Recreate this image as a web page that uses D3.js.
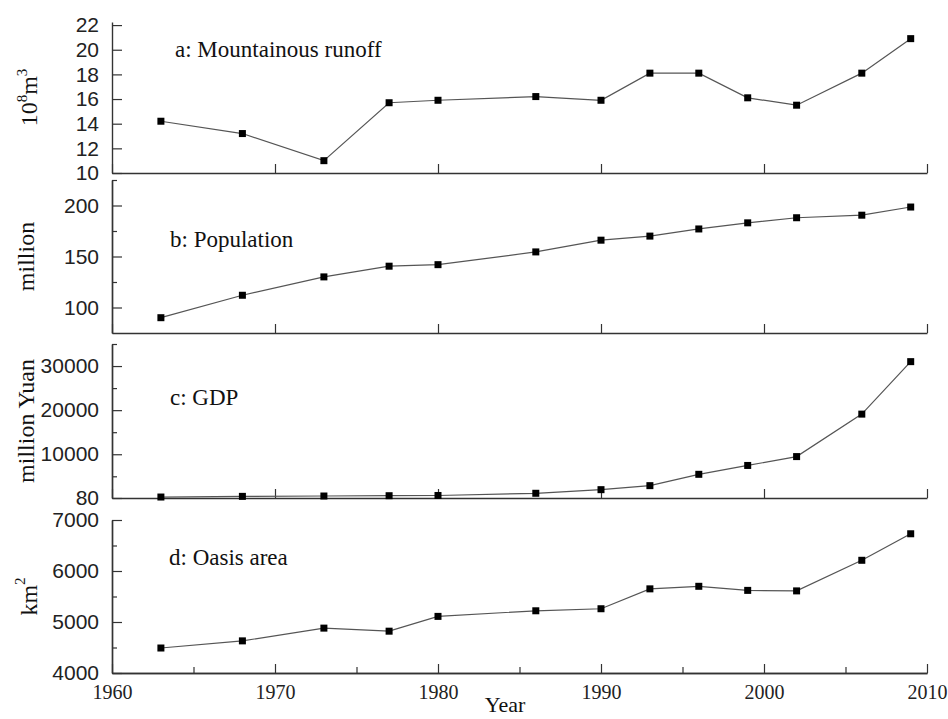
<!DOCTYPE html>
<html>
<head>
<meta charset="utf-8">
<script src="https://cdn.jsdelivr.net/npm/d3@7"></script>
<style>
  body { margin: 0; background: #fff; }
  svg { display: block; }
</style>
</head>
<body>
<div id="chart"></div>
<script>
// Data
const years = [1963, 1968, 1973, 1977, 1980, 1986, 1990, 1993, 1996, 1999, 2002, 2006, 2009]
const runoff = [14.2, 13.2, 11.0, 15.7, 15.9, 16.2, 15.9, 18.1, 18.1, 16.1, 15.5, 18.1, 20.9]
const population = [90, 112, 130, 140.5, 142, 154.5, 166, 170, 177, 183, 188, 190.5, 198.5]
const gdp = [300, 450, 530, 600, 650, 1150, 1970, 2880, 5450, 7460, 9470, 19100, 31000]
const oasis = [4490, 4630, 4880, 4820, 5110, 5220, 5260, 5650, 5700, 5620, 5610, 6210, 6730]

const yearTicks = [1960, 1970, 1980, 1990, 2000, 2010]
const yearMinor = [1965, 1975, 1985, 1995, 2005]
const runoffTicks = [10, 12, 14, 16, 18, 20, 22]
const popTicks = [100, 150, 200]
const popMinor = [125, 175, 225]
const gdpTicks = [80, 10000, 20000, 30000]
const gdpMinor = [5000, 15000, 25000, 35000]
const oasisTicks = [4000, 5000, 6000, 7000]
const oasisMinor = [4500, 5500, 6500]

const W = 948, H = 719
const left = 112, right = 927
const serif = "'Liberation Serif', 'Times New Roman', serif"
const sans = "'Liberation Sans', Arial, sans-serif"
const axisColor = '#333'

const svg = d3.select('#chart').append('svg')
    .attr('width', W)
    .attr('height', H)

const xScale = d3.scaleLinear().domain([1960, 2010]).range([left, right])

const panels = [
  { values: runoff, domain: [10, 22.25], top: 22, bottom: 173, ticks: runoffTicks, minor: [],
    title: 'a: Mountainous runoff', tx: 175, ty: 57, label: 'runoff', lx: 37 },
  { values: population, domain: [75, 225], top: 180, bottom: 333, ticks: popTicks, minor: popMinor,
    title: 'b: Population', tx: 170, ty: 247, label: 'million', lx: 34 },
  { values: gdp, domain: [80, 35000], top: 344, bottom: 498, ticks: gdpTicks, minor: gdpMinor,
    title: 'c: GDP', tx: 170, ty: 405, label: 'million Yuan', lx: 34 },
  { values: oasis, domain: [4000, 7000], top: 520, bottom: 673, ticks: oasisTicks, minor: oasisMinor,
    title: 'd: Oasis area', tx: 169, ty: 565, label: 'km', lx: 37 }
]

function styleAxis(g) {
  g.select('.domain').attr('stroke', axisColor).attr('stroke-width', 1.4)
  g.selectAll('.tick line').attr('stroke', axisColor).attr('stroke-width', 1.2)
}

panels.forEach((p, i) => {
  const yScale = d3.scaleLinear().domain(p.domain).range([p.bottom, p.top])
  const g = svg.append('g').attr('class', 'panel')

  // minor y ticks
  if (p.minor.length) {
    g.append('g')
      .attr('transform', `translate(${left},0)`)
      .call(d3.axisLeft(yScale).tickValues(p.minor).tickSizeInner(-5).tickSizeOuter(0).tickFormat(''))
      .call(styleAxis)
  }

  // major y ticks
  g.append('g')
    .attr('transform', `translate(${left},0)`)
    .call(d3.axisLeft(yScale).tickValues(p.ticks).tickSizeInner(-10).tickSizeOuter(0).tickPadding(13)
      .tickFormat(d3.format('d')))
    .call(styleAxis)
    .call(a => a.selectAll('text')
      .attr('font-family', sans)
      .attr('font-size', 21)
      .attr('fill', '#222'))

  // bottom axis
  const last = i === panels.length - 1
  if (last) {
    g.append('g')
      .attr('transform', `translate(0,${p.bottom})`)
      .call(d3.axisBottom(xScale).tickValues(yearMinor).tickSizeInner(-6).tickSizeOuter(0).tickFormat(''))
      .call(styleAxis)
  }
  g.append('g')
    .attr('transform', `translate(0,${p.bottom})`)
    .call(d3.axisBottom(xScale).tickValues(yearTicks).tickSizeInner(-9).tickSizeOuter(0).tickPadding(12)
      .tickFormat(last ? d3.format('d') : ''))
    .call(styleAxis)
    .call(a => a.selectAll('text')
      .attr('font-family', serif)
      .attr('font-size', 20)
      .attr('fill', '#222'))

  // line
  const line = d3.line()
    .x((d, j) => xScale(years[j]))
    .y(d => yScale(d))
  g.append('path')
    .datum(p.values)
    .attr('d', line)
    .attr('fill', 'none')
    .attr('stroke', '#555')
    .attr('stroke-width', 1.2)

  // markers
  g.selectAll('rect.pt')
    .data(p.values).enter()
    .append('rect')
    .attr('class', 'pt')
    .attr('x', (d, j) => xScale(years[j]) - 3.5)
    .attr('y', d => yScale(d) - 3.5)
    .attr('width', 7)
    .attr('height', 7)
    .attr('fill', '#000')

  // panel title
  g.append('text')
    .attr('x', p.tx)
    .attr('y', p.ty)
    .attr('font-family', serif)
    .attr('font-size', 23)
    .attr('fill', '#111')
    .text(p.title)

  // y axis title
  const cy = (p.top + p.bottom) / 2
  const t = g.append('text')
    .attr('transform', `translate(${p.lx},${cy}) rotate(-90)`)
    .attr('text-anchor', 'middle')
    .attr('font-family', serif)
    .attr('font-size', 24)
    .attr('fill', '#111')
  if (i === 0) {
    t.append('tspan').text('10')
    t.append('tspan').attr('font-size', 15).attr('dy', -10).text('8')
    t.append('tspan').attr('dy', 10).text('m')
    t.append('tspan').attr('font-size', 15).attr('dy', -10).text('3')
  } else if (i === 3) {
    t.append('tspan').text('km')
    t.append('tspan').attr('font-size', 15).attr('dy', -12).text('2')
  } else {
    t.text(p.label)
  }
})

// x axis title
svg.append('text')
  .attr('x', 505)
  .attr('y', 712)
  .attr('text-anchor', 'middle')
  .attr('font-family', serif)
  .attr('font-size', 22)
  .attr('fill', '#111')
  .text('Year')
</script>
</body>
</html>
